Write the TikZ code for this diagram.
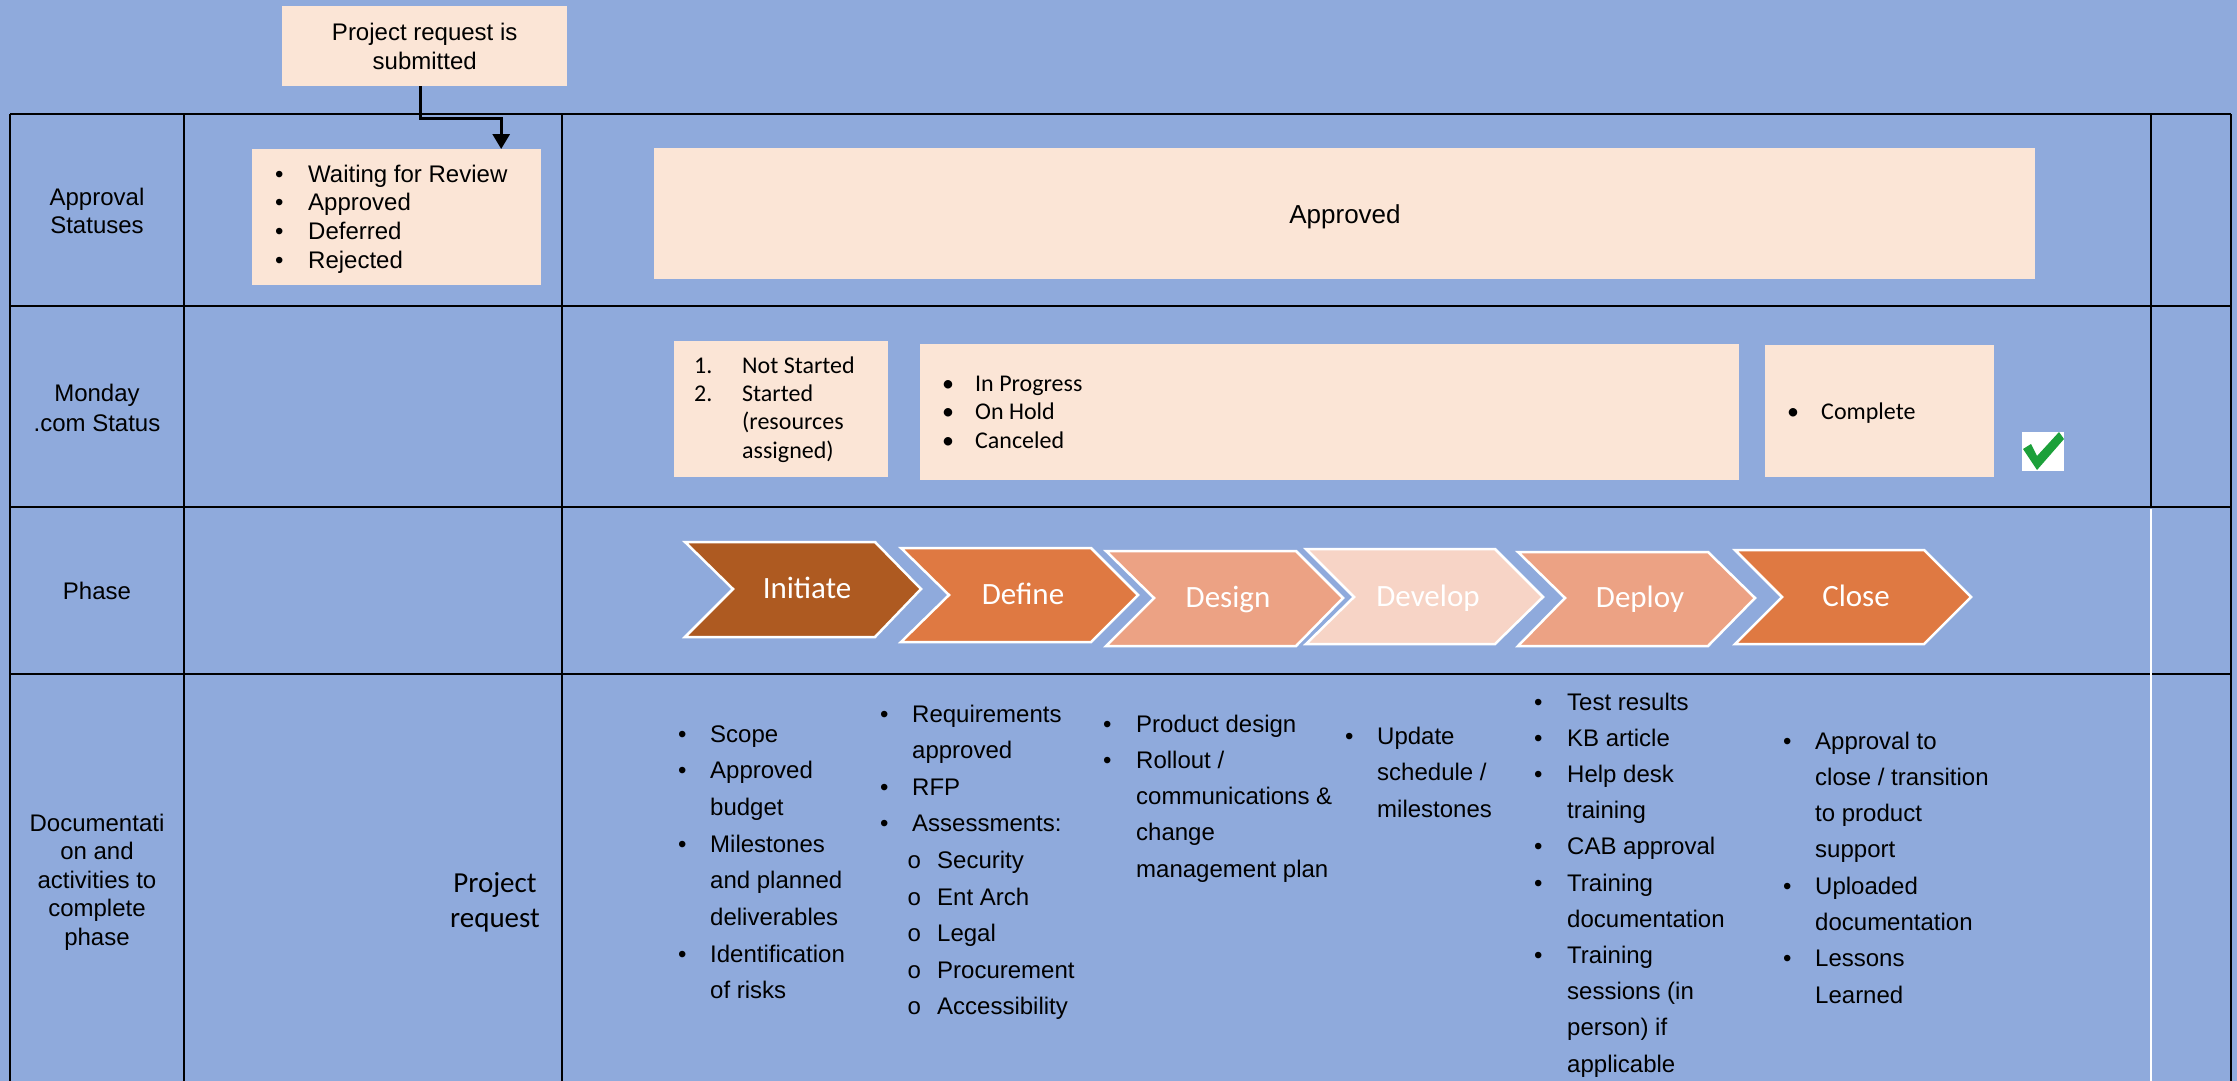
\documentclass[tikz,border=0pt]{standalone}
\usepackage{fontspec}
\setmainfont{Liberation Sans}
\newfontfamily\calibri{Carlito}
\newfontfamily\couriernew{Liberation Mono}
\usetikzlibrary{arrows.meta}

\definecolor{bgblue}{RGB}{143,170,220}
\definecolor{peach}{RGB}{251,229,214}
\definecolor{brownph}{RGB}{174,90,33}
\definecolor{orangeph}{RGB}{223,121,66}
\definecolor{salmonph}{RGB}{236,162,132}
\definecolor{paleph}{RGB}{247,212,198}
\definecolor{checkgreen}{RGB}{28,160,58}

\newlength{\bw}
\newcommand{\bulln}[1]{\makebox[\bw][l]{\textbullet}#1}
\newcommand{\contn}[1]{\hspace*{\bw}#1}
\newcommand{\subln}[1]{\hspace*{27pt}\makebox[30pt][l]{{\couriernew o}}#1}

\tikzset{
  tbl/.style={line width=2.5pt, draw=black},
  tblw/.style={line width=2pt, draw=white},
  peachbox/.style={fill=peach, draw=none, inner sep=0pt, anchor=north west},
  txt/.style={inner sep=0pt, anchor=base west, text=black},
  lbl/.style={inner sep=0pt, anchor=base, text=black},
  chev/.style={draw=white, line width=2.5pt, line join=miter},
  chevtxt/.style={text=white, font=\calibri\fontsize{31pt}{36pt}\selectfont, inner sep=0pt, anchor=base},
  conn/.style={line width=3pt, draw=black, -{Triangle[width=17pt,length=15pt]}},
}

\begin{document}
\begin{tikzpicture}[x=1pt, y=-1pt]
\useasboundingbox (0,0) rectangle (2237,1081);
\fill[bgblue] (0,0) rectangle (2237,1081);

% table grid
\draw[tbl] (10,114) -- (2231,114);
\draw[tbl] (10,306) -- (2231,306);
\draw[tbl] (10,507) -- (2231,507);
\draw[tbl] (10,674) -- (2231,674);
\draw[tbl] (10,114) -- (10,1081);
\draw[tbl] (184,114) -- (184,1081);
\draw[tbl] (562,114) -- (562,1081);
\draw[tbl] (2151,114) -- (2151,507);
\draw[tblw] (2151,508.5) -- (2151,1081);
\draw[tbl] (2231,114) -- (2231,1081);

% row labels
\node[lbl] (lab1) at (97,205) {\parbox[t]{170pt}{\centering\fontsize{24pt}{28pt}\selectfont Approval\\Statuses}};
\node[lbl] (lab2) at (97,401) {\parbox[t]{170pt}{\centering\fontsize{24pt}{30pt}\selectfont Monday\\.com Status}};
\node[lbl] (lab3) at (97,599) {\parbox[t]{170pt}{\centering\fontsize{24pt}{28pt}\selectfont Phase}};
\node[lbl] (lab4) at (97,831) {\parbox[t]{170pt}{\centering\fontsize{24pt}{28.5pt}\selectfont Documentati\\on and\\activities to\\complete\\phase}};

% project request
\node[peachbox, minimum width=285pt, minimum height=80pt, align=center,
      font=\fontsize{24pt}{28.5pt}\selectfont] (pr) at (282,6) {Project request is\\submitted};

% approval statuses
\node[peachbox, minimum width=289pt, minimum height=136pt] (ws) at (252,149) {};
\node[txt] (wst) at (275,182) {\setlength{\bw}{33pt}\parbox[t]{260pt}{\fontsize{24pt}{28.7pt}\selectfont
  \bulln{Waiting for Review}\\\bulln{Approved}\\\bulln{Deferred}\\\bulln{Rejected}}};
\draw[conn] ([xshift=-4.5pt]pr.south) -- ++(0,32) -| ([xshift=104.5pt]ws.north);

\node[peachbox, minimum width=1381pt, minimum height=131pt] (ap) at (654,148) {};
\node[lbl, font=\fontsize{26pt}{30pt}\selectfont] (apt) at (1345,223) {Approved};

% monday status
\node[peachbox, minimum width=214pt, minimum height=136pt] (ms1) at (674,341) {};
\node[txt] (ms1t) at (694,373) {\setlength{\bw}{48pt}\parbox[t]{190pt}{\calibri\fontsize{24pt}{28.4pt}\selectfont
  \makebox[\bw][l]{1.}Not Started\\\makebox[\bw][l]{2.}Started\\\contn{(resources}\\\contn{assigned)}}};
\node[peachbox, minimum width=819pt, minimum height=136pt] (ms2) at (920,344) {};
\node[txt] (ms2t) at (942,391) {\setlength{\bw}{33pt}\parbox[t]{300pt}{\calibri\fontsize{24pt}{28.5pt}\selectfont
  \bulln{In Progress}\\\bulln{On Hold}\\\bulln{Canceled}}};
\node[peachbox, minimum width=229pt, minimum height=132pt] (ms3) at (1765,345) {};
\node[txt] (ms3t) at (1787,419) {\setlength{\bw}{34pt}\parbox[t]{200pt}{\calibri\fontsize{24pt}{28.5pt}\selectfont
  \bulln{Complete}}};

% check mark
\fill[white] (2022,432) rectangle (2064,471);
\fill[checkgreen] (2023,449) -- (2031,444) -- (2037,456) -- (2059,432) -- (2064,439) -- (2037,470) -- cycle;

% phases
\path[chev, fill=brownph] (685,542) -- (875,542) -- (921,589) -- (875,637) -- (685,637) -- (733,589) -- cycle;
\path[chev, fill=orangeph] (901,548) -- (1091,548) -- (1138,595) -- (1091,642) -- (901,642) -- (949,595) -- cycle;
\path[chev, fill=salmonph] (1106,551) -- (1296,551) -- (1343,598) -- (1296,646) -- (1106,646) -- (1154,598) -- cycle;
\path[chev, fill=paleph] (1306,549) -- (1495,549) -- (1543,597) -- (1495,644) -- (1306,644) -- (1354,597) -- cycle;
\path[chev, fill=salmonph] (1518,552) -- (1708,552) -- (1755,598) -- (1708,646) -- (1518,646) -- (1565,598) -- cycle;
\path[chev, fill=orangeph] (1735,550) -- (1924,550) -- (1971,597) -- (1924,644) -- (1735,644) -- (1782,597) -- cycle;
\node[chevtxt] (ph1) at (807,598) {Initiate};
\node[chevtxt] (ph2) at (1023,604) {Define};
\node[chevtxt] (ph3) at (1228,607) {Design};
\node[chevtxt] (ph4) at (1428,606) {Develop};
\node[chevtxt] (ph5) at (1640,607) {Deploy};
\node[chevtxt] (ph6) at (1856,606) {Close};

% documentation
\node[lbl] (preq) at (495,892) {\parbox[t]{150pt}{\centering\calibri\fontsize{29pt}{35pt}\selectfont Project\\request}};

\node[txt] (d1) at (678,742) {\setlength{\bw}{32pt}\parbox[t]{200pt}{\fontsize{24pt}{36.7pt}\selectfont
  \bulln{Scope}\\\bulln{Approved}\\\contn{budget}\\\bulln{Milestones}\\\contn{and planned}\\\contn{deliverables}\\\bulln{Identification}\\\contn{of risks}}};
\node[txt] (d2) at (880,722) {\setlength{\bw}{32pt}\parbox[t]{220pt}{\fontsize{24pt}{36.6pt}\selectfont
  \bulln{Requirements}\\\contn{approved}\\\bulln{RFP}\\\bulln{Assessments:}\\\subln{Security}\\\subln{Ent Arch}\\\subln{Legal}\\\subln{Procurement}\\\subln{Accessibility}}};
\node[txt] (d3) at (1103,732) {\setlength{\bw}{33pt}\parbox[t]{240pt}{\fontsize{24pt}{36.3pt}\selectfont
  \bulln{Product design}\\\bulln{Rollout /}\\\contn{communications \&}\\\contn{change}\\\contn{management plan}}};
\node[txt] (d4) at (1345,744) {\setlength{\bw}{32pt}\parbox[t]{200pt}{\fontsize{24pt}{36.5pt}\selectfont
  \bulln{Update}\\\contn{schedule /}\\\contn{milestones}}};
\node[txt] (d5) at (1534,710) {\setlength{\bw}{33pt}\parbox[t]{220pt}{\fontsize{24pt}{36.2pt}\selectfont
  \bulln{Test results}\\\bulln{KB article}\\\bulln{Help desk}\\\contn{training}\\\bulln{CAB approval}\\\bulln{Training}\\\contn{documentation}\\\bulln{Training}\\\contn{sessions (in}\\\contn{person) if}\\\contn{applicable}}};
\node[txt] (d6) at (1783,749) {\setlength{\bw}{32pt}\parbox[t]{240pt}{\fontsize{24pt}{36.3pt}\selectfont
  \bulln{Approval to}\\\contn{close / transition}\\\contn{to product}\\\contn{support}\\\bulln{Uploaded}\\\contn{documentation}\\\bulln{Lessons}\\\contn{Learned}}};
\end{tikzpicture}
\end{document}
